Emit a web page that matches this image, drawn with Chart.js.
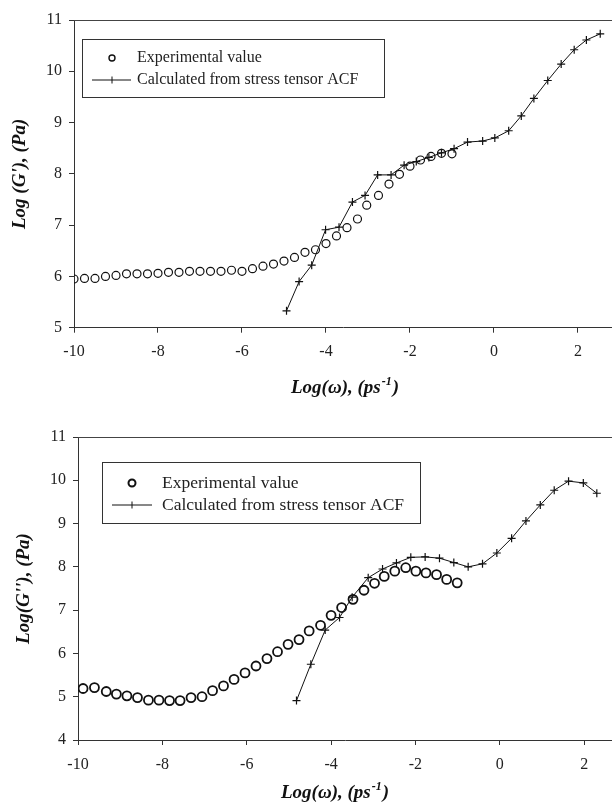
<!DOCTYPE html>
<html>
<head>
<meta charset="utf-8">
<script src="https://cdn.jsdelivr.net/npm/chart.js@4"></script>
<style>
	html, body { margin: 0; padding: 0; background: #fff; }
	#wrap { position: relative; width: 612px; height: 805px; overflow: hidden; }
	canvas { position: absolute; left: 0; }
</style>
</head>
<body>
<div id="wrap">
	<canvas id="storage" width="612" height="400" style="top:0"></canvas>
	<canvas id="loss" width="612" height="405" style="top:400px"></canvas>
</div>
<script>
const xTicks = [-10, -8, -6, -4, -2, 0, 2];
const storageYTicks = [5, 6, 7, 8, 9, 10, 11];
const lossYTicks = [4, 5, 6, 7, 8, 9, 10, 11];

const legendLabels = ["Experimental value", "Calculated from stress tensor ACF"];
// x title split so the unit exponent can sit raised
const xTitleParts = ["Log(ω), (ps", "-1", ")"];

// top: Log(G')
const storageExpX = [-10, -9.75, -9.5, -9.25, -9, -8.75, -8.5, -8.25, -8, -7.75, -7.5, -7.25, -7, -6.75, -6.5, -6.25, -6, -5.75, -5.5, -5.25, -5, -4.75, -4.5, -4.25, -4, -3.75, -3.5, -3.25, -3.03, -2.75, -2.5, -2.25, -2, -1.75, -1.5, -1.25, -1];
const storageExpY = [5.95, 5.96, 5.96, 6.0, 6.02, 6.05, 6.05, 6.05, 6.06, 6.08, 6.08, 6.1, 6.1, 6.1, 6.1, 6.12, 6.1, 6.15, 6.2, 6.24, 6.3, 6.37, 6.47, 6.52, 6.64, 6.79, 6.95, 7.12, 7.39, 7.58, 7.8, 7.99, 8.15, 8.27, 8.34, 8.4, 8.39];
const storageCalcX = [-4.94, -4.64, -4.34, -4.01, -3.69, -3.37, -3.07, -2.77, -2.45, -2.14, -1.85, -1.55, -1.25, -0.95, -0.63, -0.27, 0.02, 0.35, 0.65, 0.95, 1.28, 1.6, 1.91, 2.2, 2.53];
const storageCalcY = [5.33, 5.9, 6.22, 6.91, 6.96, 7.45, 7.58, 7.98, 7.98, 8.17, 8.24, 8.32, 8.41, 8.49, 8.62, 8.64, 8.7, 8.84, 9.13, 9.47, 9.82, 10.14, 10.42, 10.61, 10.73];

// bottom: Log(G'')
const lossExpX = [-9.88, -9.61, -9.33, -9.09, -8.84, -8.59, -8.33, -8.08, -7.83, -7.58, -7.32, -7.06, -6.81, -6.55, -6.3, -6.04, -5.78, -5.52, -5.27, -5.02, -4.76, -4.52, -4.25, -4.0, -3.75, -3.48, -3.22, -2.97, -2.74, -2.49, -2.23, -1.99, -1.75, -1.5, -1.26, -1.01];
const lossExpY = [5.19, 5.21, 5.12, 5.06, 5.02, 4.98, 4.92, 4.92, 4.91, 4.91, 4.98, 5.0, 5.14, 5.25, 5.4, 5.55, 5.71, 5.88, 6.04, 6.21, 6.32, 6.52, 6.65, 6.88, 7.06, 7.25, 7.46, 7.62, 7.78, 7.9, 7.98, 7.9, 7.86, 7.82, 7.71, 7.63];
const lossCalcX = [-4.82, -4.48, -4.14, -3.8, -3.5, -3.12, -2.78, -2.45, -2.11, -1.77, -1.43, -1.09, -0.75, -0.41, -0.07, 0.28, 0.62, 0.96, 1.29, 1.63, 1.98, 2.3];
const lossCalcY = [4.91, 5.75, 6.54, 6.83, 7.3, 7.75, 7.95, 8.09, 8.22, 8.23, 8.2, 8.1, 8.0, 8.07, 8.32, 8.66, 9.06, 9.43, 9.77, 9.98, 9.94, 9.7];

Chart.defaults.font.family = "'Liberation Serif', 'Times New Roman', serif";
Chart.defaults.color = "#222";

const toPoints = (xs, ys) => xs.map((x, i) => ({x: x, y: ys[i]}));

// plot frame top line, x title with superscript, boxed legend inside the plot
const framePlugin = {
	id: "frame",
	afterDraw(chart, args, opts) {
		const {ctx, chartArea} = chart;
		ctx.save();
		ctx.strokeStyle = "#444";
		ctx.lineWidth = 1;
		ctx.beginPath();
		ctx.moveTo(chartArea.left, chartArea.top + 0.5);
		ctx.lineTo(chartArea.right, chartArea.top + 0.5);
		ctx.stroke();

		// x axis title
		const big = "italic bold 19px 'Liberation Serif', serif";
		const small = "italic bold 12px 'Liberation Serif', serif";
		ctx.fillStyle = "#111";
		ctx.textBaseline = "alphabetic";
		ctx.textAlign = "left";
		ctx.font = big;
		const w0 = ctx.measureText(xTitleParts[0]).width;
		const w2 = ctx.measureText(xTitleParts[2]).width;
		ctx.font = small;
		const w1 = ctx.measureText(xTitleParts[1]).width + 2;
		let tx = opts.titleX - (w0 + w1 + w2) / 2;
		ctx.font = big;
		ctx.fillText(xTitleParts[0], tx, opts.titleY);
		tx += w0;
		ctx.font = small;
		ctx.fillText(xTitleParts[1], tx + 1, opts.titleY - 8);
		tx += w1;
		ctx.font = big;
		ctx.fillText(xTitleParts[2], tx, opts.titleY);

		// legend
		const b = opts.box;
		ctx.strokeStyle = "#333";
		ctx.strokeRect(b.x + 0.5, b.y + 0.5, b.w, b.h);

		ctx.font = opts.fontSize + "px 'Liberation Serif', serif";
		ctx.fillStyle = "#222";
		ctx.textBaseline = "middle";

		ctx.lineWidth = opts.circleWidth;
		ctx.strokeStyle = "#111";
		ctx.beginPath();
		ctx.arc(opts.markX, opts.row1, opts.circleR, 0, Math.PI * 2);
		ctx.stroke();
		ctx.fillText(legendLabels[0], opts.textX, opts.row1);

		ctx.lineWidth = 1;
		ctx.beginPath();
		ctx.moveTo(opts.lineX0, opts.row2);
		ctx.lineTo(opts.lineX1, opts.row2);
		ctx.moveTo(opts.markX, opts.row2 - 3.5);
		ctx.lineTo(opts.markX, opts.row2 + 3.5);
		ctx.stroke();
		ctx.fillText(legendLabels[1], opts.textX, opts.row2);
		ctx.restore();
	}
};

const makeChart = (canvas, cfg) => new Chart(canvas, {
	type: "scatter",
	data: {
		datasets: [{
			label: legendLabels[0],
			data: toPoints(cfg.expX, cfg.expY),
			pointStyle: "circle",
			pointRadius: cfg.circleR,
			borderColor: "#111",
			backgroundColor: "rgba(0,0,0,0)",
			pointBorderWidth: cfg.circleWidth,
			showLine: false,
		}, {
			label: legendLabels[1],
			data: toPoints(cfg.calcX, cfg.calcY),
			pointStyle: "cross",
			pointRadius: 4,
			pointBorderWidth: 1.2,
			borderColor: "#111",
			borderWidth: 1,
			showLine: true,
			tension: 0,
		}],
	},
	options: {
		responsive: false,
		animation: false,
		layout: {autoPadding: false, padding: {top: cfg.top, right: 0, bottom: 0, left: 0}},
		plugins: {
			legend: {display: false},
			tooltip: {enabled: false},
			frame: cfg.legend,
		},
		scales: {
			x: {
				type: "linear",
				min: -10,
				max: cfg.xMax,
				afterBuildTicks: s => { s.ticks = xTicks.map(v => ({value: v})); },
				afterFit: s => { s.height = cfg.xHeight; s.paddingLeft = 0; s.paddingRight = 0; },
				grid: {display: true, drawOnChartArea: false, tickLength: 5, tickColor: "#333"},
				border: {color: "#333", width: 1},
				ticks: {font: {size: 16}, padding: cfg.xTickPad, color: "#222"},
				title: {display: false},
			},
			y: {
				type: "linear",
				min: cfg.yTicks[0],
				max: cfg.yTicks[cfg.yTicks.length - 1],
				afterBuildTicks: s => { s.ticks = cfg.yTicks.map(v => ({value: v})); },
				afterFit: s => { s.width = cfg.yWidth; s.paddingTop = 0; s.paddingBottom = 0; },
				grid: {display: true, drawOnChartArea: false, tickLength: 5, tickColor: "#333"},
				border: {color: "#333", width: 1},
				ticks: {font: {size: 16}, padding: 7, color: "#222"},
				title: {
					display: true,
					text: cfg.yTitle,
					font: {size: 19, style: "italic", weight: "bold"},
					padding: {top: cfg.yTitlePad, bottom: 0},
					color: "#111",
				},
			},
		},
	},
	plugins: [framePlugin],
});

makeChart(document.getElementById("storage"), {
	expX: storageExpX, expY: storageExpY,
	calcX: storageCalcX, calcY: storageCalcY,
	yTicks: storageYTicks,
	yTitle: "Log (G'), (Pa)",
	xMax: 2.81,
	top: 20,
	xHeight: 72.3,
	xTickPad: 9.7,
	yWidth: 74,
	yTitlePad: 9,
	circleR: 4,
	circleWidth: 1.2,
	legend: {
		box: {x: 82, y: 39, w: 302, h: 58},
		fontSize: 16,
		row1: 58, row2: 80,
		markX: 112, lineX0: 92, lineX1: 131, textX: 137,
		circleR: 3, circleWidth: 1.4,
		titleX: 345, titleY: 393,
	},
});

makeChart(document.getElementById("loss"), {
	expX: lossExpX, expY: lossExpY,
	calcX: lossCalcX, calcY: lossCalcY,
	yTicks: lossYTicks,
	yTitle: "Log(G''), (Pa)",
	xMax: 2.66,
	top: 37,
	xHeight: 65,
	xTickPad: 10.4,
	yWidth: 78,
	yTitlePad: 12.5,
	circleR: 4.5,
	circleWidth: 1.8,
	legend: {
		box: {x: 102, y: 62, w: 318, h: 61},
		fontSize: 17.5,
		row1: 83, row2: 105,
		markX: 132, lineX0: 112, lineX1: 152, textX: 162,
		circleR: 3.5, circleWidth: 2,
		titleX: 335, titleY: 398,
	},
});
</script>
</body>
</html>
